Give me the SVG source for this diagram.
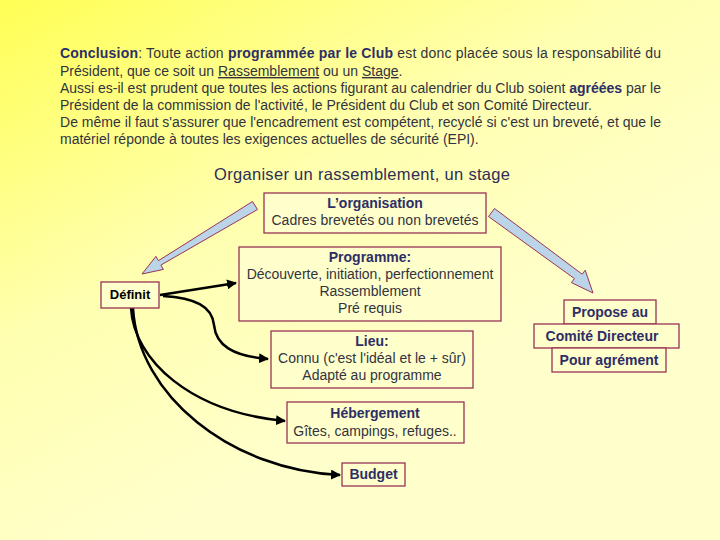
<svg xmlns="http://www.w3.org/2000/svg" width="720" height="540" viewBox="0 0 720 540">
<defs>
<linearGradient id="bg" x1="0" y1="0" x2="0.55" y2="0.75">
<stop offset="0" stop-color="#ffff55"/>
<stop offset="0.55" stop-color="#ffffb0"/>
<stop offset="1" stop-color="#ffffcc"/>
</linearGradient>
<marker id="ah" viewBox="0 0 10 10" refX="9" refY="5" markerWidth="4" markerHeight="4" orient="auto" markerUnits="strokeWidth">
<path d="M0,0 L10,5 L0,10 z" fill="#000"/>
</marker>
<style>
text{font-family:"Liberation Sans",Arial,sans-serif;}
.p{font-size:14px;fill:#333340;}
.b{font-weight:bold;fill:#2e2e66;}
.u{text-decoration:underline;}
.box{fill:#ffffcc;stroke:#993355;stroke-width:1.3;}
.t{font-size:14px;fill:#333340;text-anchor:middle;}
.tb{font-size:14px;font-weight:bold;fill:#2e2e66;text-anchor:middle;}
.conn{fill:none;stroke:#000;stroke-width:2.5;}
.blk{fill:#bcd4e8;stroke:#993355;stroke-width:1;}
</style>
</defs>
<rect width="720" height="540" fill="url(#bg)"/>

<g id="intro">
<text class="p" x="60" y="58" textLength="601" lengthAdjust="spacing"><tspan class="b">Conclusion</tspan>: Toute action <tspan class="b">programmée par le Club</tspan> est donc placée sous la responsabilité du</text>
<text class="p" x="60" y="76">Président, que ce soit un <tspan class="u">Rassemblement</tspan> ou un <tspan class="u">Stage</tspan>.</text>
<text class="p" x="60" y="93" textLength="601" lengthAdjust="spacing">Aussi es-il est prudent que toutes les actions figurant au calendrier du Club soient <tspan class="b">agréées</tspan> par le</text>
<text class="p" x="60" y="110">Président de la commission de l'activité, le Président du Club et son Comité Directeur.</text>
<text class="p" x="60" y="127" textLength="601" lengthAdjust="spacing">De même il faut s'assurer que l'encadrement est compétent, recyclé si c'est un breveté, et que le</text>
<text class="p" x="60" y="144">matériel réponde à toutes les exigences actuelles de sécurité (EPI).</text>
</g>

<text id="title" x="214" y="180" font-size="16.5" fill="#2e2e55" textLength="296" lengthAdjust="spacing">Organiser un rassemblement, un stage</text>

<g id="connectors">
<polygon class="blk" points="252.5,201.5 257.5,209.5 160.9,265.1 163.4,269.4 142,274 155.9,256.4 158.4,260.7"/>
<polygon class="blk" points="488.5,216.5 494.5,208.5 582.2,274.2 585.2,270.2 593,293 571.4,282.6 574.4,278.6"/>
<path class="conn" d="M160,295 L236,283" marker-end="url(#ah)"/>
<path class="conn" d="M163,296 C195,298 212,306 214,325 C216,345 232,356 268,359" marker-end="url(#ah)"/>
<path class="conn" d="M131,308 C134,360 190,412 285,421" marker-end="url(#ah)"/>
<path class="conn" d="M133,308 C138,395 230,470 340,475" marker-end="url(#ah)"/>
</g>

<g id="organisation">
<rect class="box" x="264" y="193" width="222" height="40"/>
<text class="tb" x="375" y="208">L’organisation</text>
<text class="t" x="375" y="225">Cadres brevetés ou non brevetés</text>
</g>

<g id="programme">
<rect class="box" x="239" y="247" width="262" height="74"/>
<text class="tb" x="370" y="262">Programme:</text>
<text class="t" x="370" y="279">Découverte, initiation, perfectionnement</text>
<text class="t" x="370" y="296">Rassemblement</text>
<text class="t" x="370" y="313">Pré requis</text>
</g>

<g id="definit">
<rect class="box" x="101" y="282" width="58" height="26"/>
<text class="tb" x="130" y="299" style="fill:#000;font-size:13px">Définit</text>
</g>

<g id="lieu">
<rect class="box" x="271" y="331" width="202" height="57"/>
<text class="tb" x="372" y="346">Lieu:</text>
<text class="t" x="372" y="363">Connu (c'est l'idéal et le + sûr)</text>
<text class="t" x="372" y="380">Adapté au programme</text>
</g>

<g id="hebergement">
<rect class="box" x="287" y="402" width="177" height="41"/>
<text class="tb" x="375" y="418">Hébergement</text>
<text class="t" x="375" y="436">Gîtes, campings, refuges..</text>
</g>

<g id="budget">
<rect class="box" x="342" y="463" width="63" height="23"/>
<text class="tb" x="373.5" y="479">Budget</text>
</g>

<g id="propose">
<rect class="box" x="564" y="300" width="92" height="24"/>
<text class="tb" x="610" y="317">Propose au</text>
</g>
<g id="comite">
<rect class="box" x="534" y="324" width="145" height="24"/>
<text class="tb" x="602" y="341">Comité Directeur</text>
</g>
<g id="agrement">
<rect class="box" x="552" y="348" width="114" height="24"/>
<text class="tb" x="609" y="365">Pour agrément</text>
</g>
</svg>
